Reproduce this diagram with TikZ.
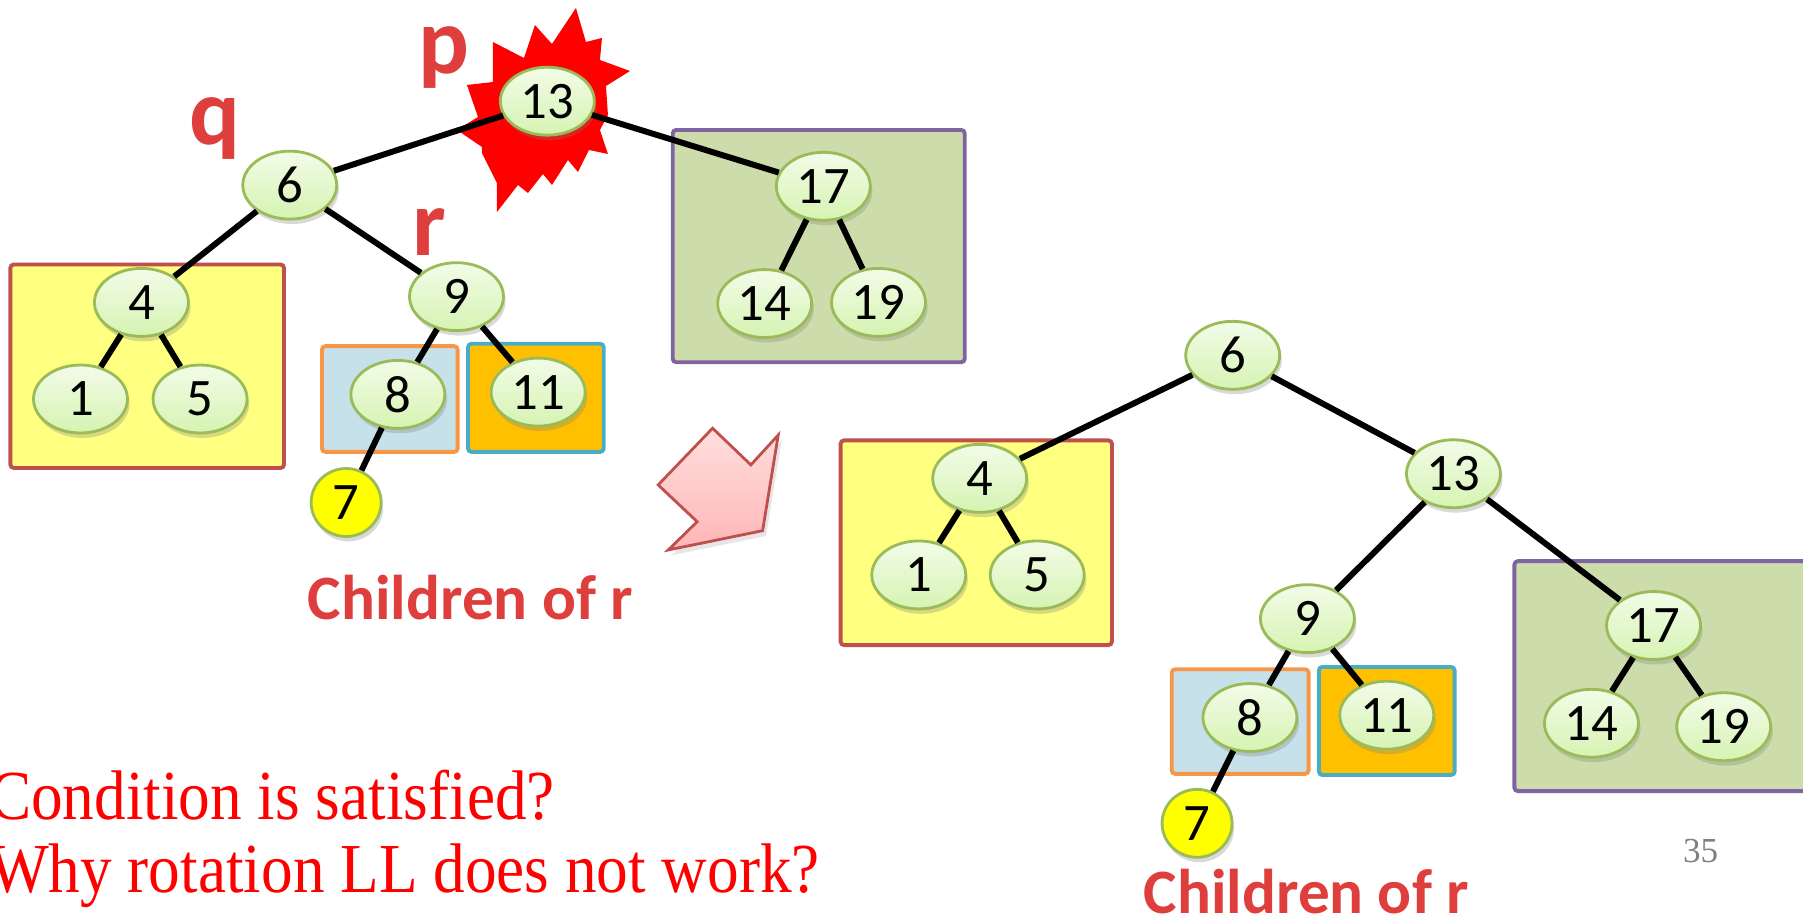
\documentclass[tikz,border=0pt]{standalone}
\usepackage{fontspec}
\setmainfont{Liberation Serif}
\newfontfamily\calibri{Carlito}
\newfontfamily\slideserif[FakeStretch=0.9]{Liberation Serif}
\usetikzlibrary{shapes.geometric,shadows}

\definecolor{nodeline}{RGB}{155,187,89}
\definecolor{nodetop}{RGB}{242,252,232}
\definecolor{nodebot}{RGB}{214,243,178}
\definecolor{boxred}{RGB}{192,80,77}
\definecolor{boxyellow}{RGB}{255,255,128}
\definecolor{boxorange}{RGB}{247,150,70}
\definecolor{boxlblue}{RGB}{198,225,234}
\definecolor{boxgold}{RGB}{255,192,0}
\definecolor{boxcyan}{RGB}{75,172,198}
\definecolor{boxpurple}{RGB}{128,100,162}
\definecolor{boxgreen}{RGB}{204,220,170}
\definecolor{labelred}{RGB}{222,62,60}

\tikzstyle{vertex}=[ellipse, draw=nodeline, line width=0.8pt, top color=nodetop, bottom color=nodebot, minimum width=0.94cm, minimum height=0.68cm, inner sep=0pt, font=\calibri\fontsize{15}{15}\selectfont, drop shadow={opacity=0.3, shadow xshift=0.6pt, shadow yshift=-1.4pt}]
\tikzstyle{newvertex}=[vertex, top color=yellow, bottom color=yellow, minimum width=0.7cm]
\tikzstyle{edge}=[line width=1.7pt]
\tikzstyle{subtree}=[line width=1.1pt, rounded corners=1pt]
\tikzstyle{ptr}=[inner sep=0pt, text=labelred, font=\calibri\bfseries\fontsize{27}{27}\selectfont]
\tikzstyle{caption}=[inner sep=0pt, text=labelred, font=\calibri\bfseries\fontsize{18}{18}\selectfont]
\tikzstyle{question}=[inner sep=0pt, anchor=base west, text=red, font=\slideserif\fontsize{20}{20}\selectfont]

\begin{document}
\begin{tikzpicture}[x=0.0115cm, y=-0.0115cm]
\useasboundingbox (0,0) rectangle (1568,797);

% burst behind p
\begin{scope}[scale=0.8696]
\fill[red] (576,8) -- (586,42) -- (602,38) -- (600,60) -- (630,71) -- (606,86)
  -- (608,115) -- (600,130) -- (608,154) -- (589,150) -- (578,172) -- (568,160)
  -- (552,185) -- (543,174) -- (528,193) -- (518,185) -- (497,212) -- (497,183)
  -- (482,153) -- (482,147) -- (457,130) -- (478,117) -- (467,85) -- (493,82)
  -- (493,42) -- (524,58) -- (535,25) -- (552,44) -- cycle;
\end{scope}

% subtrees before the rotation
\draw[subtree, draw=boxred, fill=boxyellow] (9,230) rectangle (247,407);
\draw[subtree, draw=boxorange, fill=boxlblue] (280,301) rectangle (398,393);
\draw[subtree, draw=boxcyan, fill=boxgold] (407,299) rectangle (525,393);
\draw[subtree, draw=boxpurple, fill=boxgreen] (585,113) rectangle (839,315);

% subtrees after the rotation
\draw[subtree, draw=boxred, fill=boxyellow] (731,383) rectangle (967,561);
\draw[subtree, draw=boxorange, fill=boxlblue] (1019,582) rectangle (1138,673);
\draw[subtree, draw=boxcyan, fill=boxgold] (1147,580) rectangle (1265,674);
\draw[subtree, draw=boxpurple, fill=boxgreen] (1317,488) rectangle (1580,688);

% tree before
\node[vertex] (p13) at (476,88) {13};
\node[vertex] (q6) at (252,161) {6};
\node[vertex] (a4) at (123,263) {4};
\node[vertex] (r9) at (397,258) {9};
\node[vertex] (a1) at (70,347) {1};
\node[vertex] (a5) at (174,347) {5};
\node[vertex] (a8) at (346,343) {8};
\node[vertex] (a11) at (468,341) {11};
\node[newvertex] (a7) at (301,437) {7};
\node[vertex] (a17) at (716,162) {17};
\node[vertex] (a14) at (665,264) {14};
\node[vertex] (a19) at (764,263) {19};

\draw[edge] (p13)--(q6) (p13)--(a17) (q6)--(a4) (q6)--(r9) (a4)--(a1) (a4)--(a5)
  (r9)--(a8) (r9)--(a11) (a8)--(a7) (a17)--(a14) (a17)--(a19);

\node[ptr] (plabel) at (386,50) {p};
\node[ptr] (qlabel) at (187,112) {q};
\node[ptr] (rlabel) at (373,202) {r};
\node[caption] (kids1) at (409,520) {Children of r};

% rotation arrow
\draw[draw=boxred, line width=0.8pt, top color={rgb,255:red,255;green,222;blue,222},
  bottom color={rgb,255:red,255;green,182;blue,182},
  drop shadow={opacity=0.2, shadow xshift=1pt, shadow yshift=-1.5pt}]
  (619.7,372.4) -- (653,404.3) -- (676.8,378.3) -- (663.2,461.5) -- (581.1,478.3)
  -- (606.3,453.7) -- (572.4,421.7) -- cycle;

% tree after
\node[vertex] (b6) at (1072,309) {6};
\node[vertex] (b4) at (852,416) {4};
\node[vertex] (b1) at (799,500) {1};
\node[vertex] (b5) at (902,500) {5};
\node[vertex] (b13) at (1264,412) {13};
\node[vertex] (b9) at (1137,538) {9};
\node[vertex] (b8) at (1087,624) {8};
\node[vertex] (b11) at (1206,622) {11};
\node[newvertex] (b7) at (1041,716) {7};
\node[vertex] (b17) at (1438,544) {17};
\node[vertex] (b14) at (1384,629) {14};
\node[vertex] (b19) at (1499,632) {19};

\draw[edge] (b6)--(b4) (b6)--(b13) (b4)--(b1) (b4)--(b5) (b13)--(b9) (b13)--(b17)
  (b9)--(b8) (b9)--(b11) (b8)--(b7) (b17)--(b14) (b17)--(b19);

\node[caption] (kids2) at (1136,775) {Children of r};

\node[question] (cond) at (-10,713) {Condition is satisfied?};
\node[question] (why) at (-10,776) {Why rotation LL does not work?};
\node[text=gray, font=\fontsize{10}{10}\selectfont] (pagenum) at (1479,740) {35};
\end{tikzpicture}
\end{document}
